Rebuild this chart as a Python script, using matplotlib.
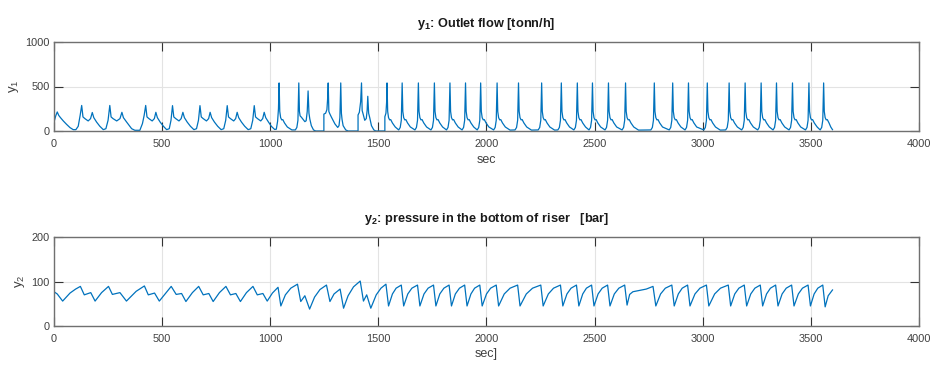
import matplotlib
matplotlib.use("Agg")
import matplotlib.pyplot as plt

plt.rcParams['font.family'] = ['Liberation Sans', 'DejaVu Sans']
plt.rcParams['mathtext.fontset'] = 'custom'
plt.rcParams['mathtext.rm'] = 'Liberation Sans'
plt.rcParams['mathtext.it'] = 'Liberation Sans'
plt.rcParams['mathtext.bf'] = 'Liberation Sans:bold'

#%% data: (time [s], value)
# y1, outlet flow [tonn/h]
y1_early = [(0, 100), (8, 170), (15, 214), (22, 175), (30, 150), (43, 113), (58, 75), (74, 38), (89, 15), (101, 15), (112, 53), (121, 177), (128, 287),
            (134, 158), (143, 139), (158, 113), (169, 139), (177, 208), (184, 150), (197, 100), (212, 53), (228, 15), (240, 26), (250, 120), (258, 287),
            (264, 158), (273, 139), (290, 113), (305, 139), (314, 210), (321, 150), (336, 100), (359, 26), (374, 8), (397, 8), (409, 83), (417, 177), (424, 287),
            (430, 158), (439, 139), (454, 113), (464, 139), (471, 210), (478, 150), (491, 100), (506, 53), (521, 15), (533, 26), (541, 120), (548, 285),
            (554, 158), (563, 139), (578, 113), (588, 139), (596, 210), (603, 150), (616, 100), (631, 53), (647, 15), (659, 26), (668, 120), (675, 285),
            (681, 158), (690, 139), (705, 113), (715, 139), (722, 210), (729, 150), (742, 100), (757, 53), (773, 15), (785, 26), (794, 120), (801, 285),
            (807, 158), (816, 139), (831, 113), (840, 139), (847, 210), (854, 150), (867, 100), (882, 53), (898, 15), (910, 26), (919, 120), (926, 285),
            (932, 158), (941, 139), (956, 113), (965, 139), (972, 210), (979, 150), (992, 100), (1005, 53), (1020, 18), (1028, 20), (1034, 110), (1038, 250)]

y1_mid = [(1041, 540), (1044, 220), (1048, 150), (1053, 125), (1058, 128), (1066, 90), (1079, 45), (1100, 12), (1116, 12), (1123, 40), (1128, 120), (1132, 540),
          (1135, 220), (1138, 170), (1144, 155), (1152, 130), (1160, 105), (1166, 115), (1171, 220), (1175, 450),
          (1179, 200), (1183, 135), (1190, 60), (1200, 12), (1210, 0), (1248, 0), (1248, 190), (1256, 200), (1262, 240), (1265, 350), (1268, 540),
          (1271, 220), (1275, 195), (1283, 155), (1299, 80), (1312, 40), (1318, 60), (1322, 150), (1326, 540),
          (1329, 200), (1332, 130), (1337, 60), (1349, 12), (1360, 0), (1406, 0), (1406, 180), (1412, 210), (1418, 330), (1422, 540),
          (1425, 230), (1429, 195), (1437, 120), (1444, 140), (1448, 230), (1451, 390), (1455, 200), (1460, 150), (1468, 60), (1479, 12), (1488, 0),
          (1530, 0), (1530, 160), (1535, 200), (1538, 320), (1540, 540)]

y1_late = [(1543, 220), (1547, 150), (1552, 125), (1557, 128), (1565, 90), (1578, 45), (1594, 12), (1601, 40), (1606, 120), (1610, 540),
           (1613, 220), (1617, 150), (1622, 125), (1627, 128), (1635, 90), (1648, 45), (1669, 12), (1676, 40), (1681, 120), (1685, 540),
           (1688, 220), (1692, 150), (1697, 125), (1702, 128), (1710, 90), (1723, 45), (1743, 12), (1750, 40), (1755, 120), (1759, 540),
           (1762, 220), (1766, 150), (1771, 125), (1776, 128), (1784, 90), (1797, 45), (1815, 12), (1822, 40), (1827, 120), (1831, 540),
           (1834, 220), (1838, 150), (1843, 125), (1848, 128), (1856, 90), (1869, 45), (1887, 12), (1894, 40), (1899, 120), (1903, 540),
           (1906, 220), (1910, 150), (1915, 125), (1920, 128), (1928, 90), (1941, 45), (1957, 12), (1964, 40), (1969, 120), (1973, 540),
           (1976, 220), (1980, 150), (1985, 125), (1990, 128), (1998, 90), (2011, 45), (2033, 12), (2040, 40), (2045, 120), (2049, 540),
           (2052, 220), (2056, 150), (2061, 125), (2066, 128), (2074, 90), (2087, 45), (2109, 10), (2132, 12), (2139, 40), (2144, 120), (2148, 540),
           (2151, 220), (2155, 150), (2160, 125), (2165, 128), (2173, 90), (2186, 45), (2208, 10), (2239, 12), (2246, 40), (2251, 120), (2255, 540),
           (2258, 220), (2262, 150), (2267, 125), (2272, 128), (2280, 90), (2293, 45), (2315, 10), (2330, 12), (2337, 40), (2342, 120), (2346, 540),
           (2349, 220), (2353, 150), (2358, 125), (2363, 128), (2371, 90), (2384, 45), (2404, 12), (2411, 40), (2416, 120), (2420, 540),
           (2423, 220), (2427, 150), (2432, 125), (2437, 128), (2445, 90), (2458, 45), (2474, 12), (2481, 40), (2486, 120), (2490, 540),
           (2493, 220), (2497, 150), (2502, 125), (2507, 128), (2515, 90), (2528, 45), (2548, 12), (2555, 40), (2560, 120), (2564, 540),
           (2567, 220), (2571, 150), (2576, 125), (2581, 128), (2589, 90), (2602, 45), (2627, 12), (2634, 40), (2639, 120), (2643, 540),
           (2646, 220), (2650, 150), (2655, 125), (2660, 128), (2668, 90), (2681, 45), (2703, 10), (2760, 12), (2767, 40), (2772, 120), (2776, 540),
           (2779, 220), (2783, 150), (2788, 125), (2793, 128), (2801, 90), (2814, 45), (2845, 12), (2852, 40), (2857, 120), (2861, 540),
           (2864, 220), (2868, 150), (2873, 125), (2878, 128), (2886, 90), (2899, 45), (2918, 12), (2925, 40), (2930, 120), (2934, 540),
           (2937, 220), (2941, 150), (2946, 125), (2951, 128), (2959, 90), (2972, 45), (3005, 12), (3012, 40), (3017, 120), (3021, 540),
           (3024, 220), (3028, 150), (3033, 125), (3038, 128), (3046, 90), (3059, 45), (3081, 10), (3106, 12), (3113, 40), (3118, 120), (3122, 540),
           (3125, 220), (3129, 150), (3134, 125), (3139, 128), (3147, 90), (3160, 45), (3180, 12), (3187, 40), (3192, 120), (3196, 540),
           (3199, 220), (3203, 150), (3208, 125), (3213, 128), (3221, 90), (3234, 45), (3254, 12), (3261, 40), (3266, 120), (3270, 540),
           (3273, 220), (3277, 150), (3282, 125), (3287, 128), (3295, 90), (3308, 45), (3325, 12), (3332, 40), (3337, 120), (3341, 540),
           (3344, 220), (3348, 150), (3353, 125), (3358, 128), (3366, 90), (3379, 45), (3399, 12), (3406, 40), (3411, 120), (3415, 540),
           (3418, 220), (3422, 150), (3427, 125), (3432, 128), (3440, 90), (3453, 45), (3475, 12), (3482, 40), (3487, 120), (3491, 540),
           (3494, 220), (3498, 150), (3503, 125), (3508, 128), (3516, 90), (3529, 45), (3543, 12), (3550, 40), (3555, 120), (3559, 540),
           (3562, 220), (3566, 150), (3571, 125), (3576, 128), (3584, 90), (3592, 45), (3600, 15)]

# y2, pressure in the bottom of riser [bar]
y2_early = [(0, 77), (15, 72), (40, 56), (74, 74), (100, 83), (122, 89), (140, 70), (170, 75), (190, 56), (220, 75), (252, 89), (270, 71),
            (305, 75), (335, 56), (380, 78), (418, 90), (436, 70), (465, 74), (487, 56), (520, 76), (542, 89), (565, 71), (590, 73), (610, 55),
            (640, 75), (669, 89), (690, 70), (716, 73), (736, 55), (765, 75), (795, 89), (816, 70), (841, 73), (862, 55), (890, 75), (920, 89),
            (940, 70), (966, 73), (986, 56), (1010, 74), (1036, 87)]

y2_mid = [(1049, 45), (1070, 70), (1095, 85), (1126, 94), (1141, 55), (1160, 68), (1182, 38), (1205, 65), (1230, 82), (1260, 92), (1276, 55),
          (1295, 72), (1323, 83), (1339, 40), (1360, 68), (1385, 88), (1416, 101), (1431, 56), (1446, 70), (1465, 40), (1490, 70), (1512, 85),
          (1535, 94), (1547, 45)]

y2_late = [(1565, 72), (1582, 85), (1606, 92), (1617, 45), (1636, 72), (1655, 85), (1681, 92), (1692, 45), (1711, 72), (1730, 85), (1755, 92),
           (1766, 45), (1784, 72), (1803, 85), (1827, 92), (1838, 45), (1856, 72), (1875, 85), (1899, 92), (1910, 45), (1928, 72), (1945, 85),
           (1969, 92), (1980, 45), (2000, 72), (2019, 85), (2045, 92), (2056, 45), (2082, 72), (2109, 85), (2144, 92), (2155, 45), (2184, 72),
           (2213, 85), (2251, 92), (2262, 45), (2286, 72), (2310, 85), (2342, 92), (2353, 45), (2372, 72), (2391, 85), (2416, 92), (2427, 45),
           (2445, 72), (2462, 85), (2486, 92), (2497, 45), (2516, 72), (2535, 85), (2560, 92), (2571, 45), (2591, 72), (2612, 85), (2639, 92),
           (2650, 47), (2662, 71), (2677, 77), (2708, 80), (2739, 83), (2770, 89), (2783, 45), (2805, 72), (2827, 85), (2857, 92), (2868, 45),
           (2887, 72), (2905, 85), (2930, 92), (2941, 45), (2964, 72), (2987, 85), (3017, 92), (3028, 45), (3055, 72), (3082, 85), (3118, 92),
           (3129, 45), (3148, 72), (3167, 85), (3192, 92), (3203, 45), (3222, 72), (3241, 85), (3266, 92), (3277, 45), (3295, 72), (3313, 85),
           (3337, 92), (3348, 45), (3367, 72), (3386, 85), (3411, 92), (3422, 45), (3442, 72), (3461, 85), (3487, 92), (3498, 45), (3515, 72),
           (3532, 85), (3555, 92), (3566, 43), (3580, 68), (3600, 81)]

x_ticks = [0, 500, 1000, 1500, 2000, 2500, 3000, 3500, 4000]
y1_ticks = [0, 500, 1000]
y2_ticks = [0, 100, 200]

titles = [r'$\mathbf{y_1}$: Outlet flow [tonn/h]', r'$\mathbf{y_2}$: pressure in the bottom of riser   [bar]']
ylabels = [r'y$_1$', r'y$_2$']
xlabels = ['sec', 'sec]']

#%%
line_color = '#0072BD'
W, H = 931, 367
fig = plt.figure(figsize=(W / 100, H / 100), dpi=100)
ax1 = fig.add_axes([54 / W, 1 - 131 / H, 865 / W, 89 / H])
ax2 = fig.add_axes([54 / W, 1 - 326 / H, 865 / W, 89 / H])

for ax, pts, yt, ttl, yl, xl in [(ax1, y1_early + y1_mid + y1_late, y1_ticks, titles[0], ylabels[0], xlabels[0]),
                                 (ax2, y2_early + y2_mid + y2_late, y2_ticks, titles[1], ylabels[1], xlabels[1])]:
    t = [p[0] for p in pts]
    v = [p[1] for p in pts]
    ax.plot(t, v, color=line_color, lw=0.9)
    ax.set_xlim(0, 4000)
    ax.set_ylim(yt[0], yt[-1])
    ax.set_xticks(x_ticks)
    ax.set_yticks(yt)
    ax.grid(True, color='#e3e3e3', lw=0.8)
    ax.set_axisbelow(True)
    ax.tick_params(direction='in', top=True, right=True, length=6.5, width=0.8,
                   color='#333333', labelsize=7.9, labelcolor='#404040')
    ax.tick_params(axis='x', pad=6)
    ax.tick_params(axis='y', pad=3)
    for s in ax.spines.values():
        s.set_color('#707070')
        s.set_linewidth(1.0)
    ax.set_title(ttl, fontsize=9.2, fontweight='bold', pad=11, color='#1a1a1a')
    ax.set_ylabel(yl, fontsize=9.5, color='#404040', labelpad=3)
    ax.set_xlabel(xl, fontsize=9, color='#404040', labelpad=3)

fig.savefig('out.png', dpi=100)
